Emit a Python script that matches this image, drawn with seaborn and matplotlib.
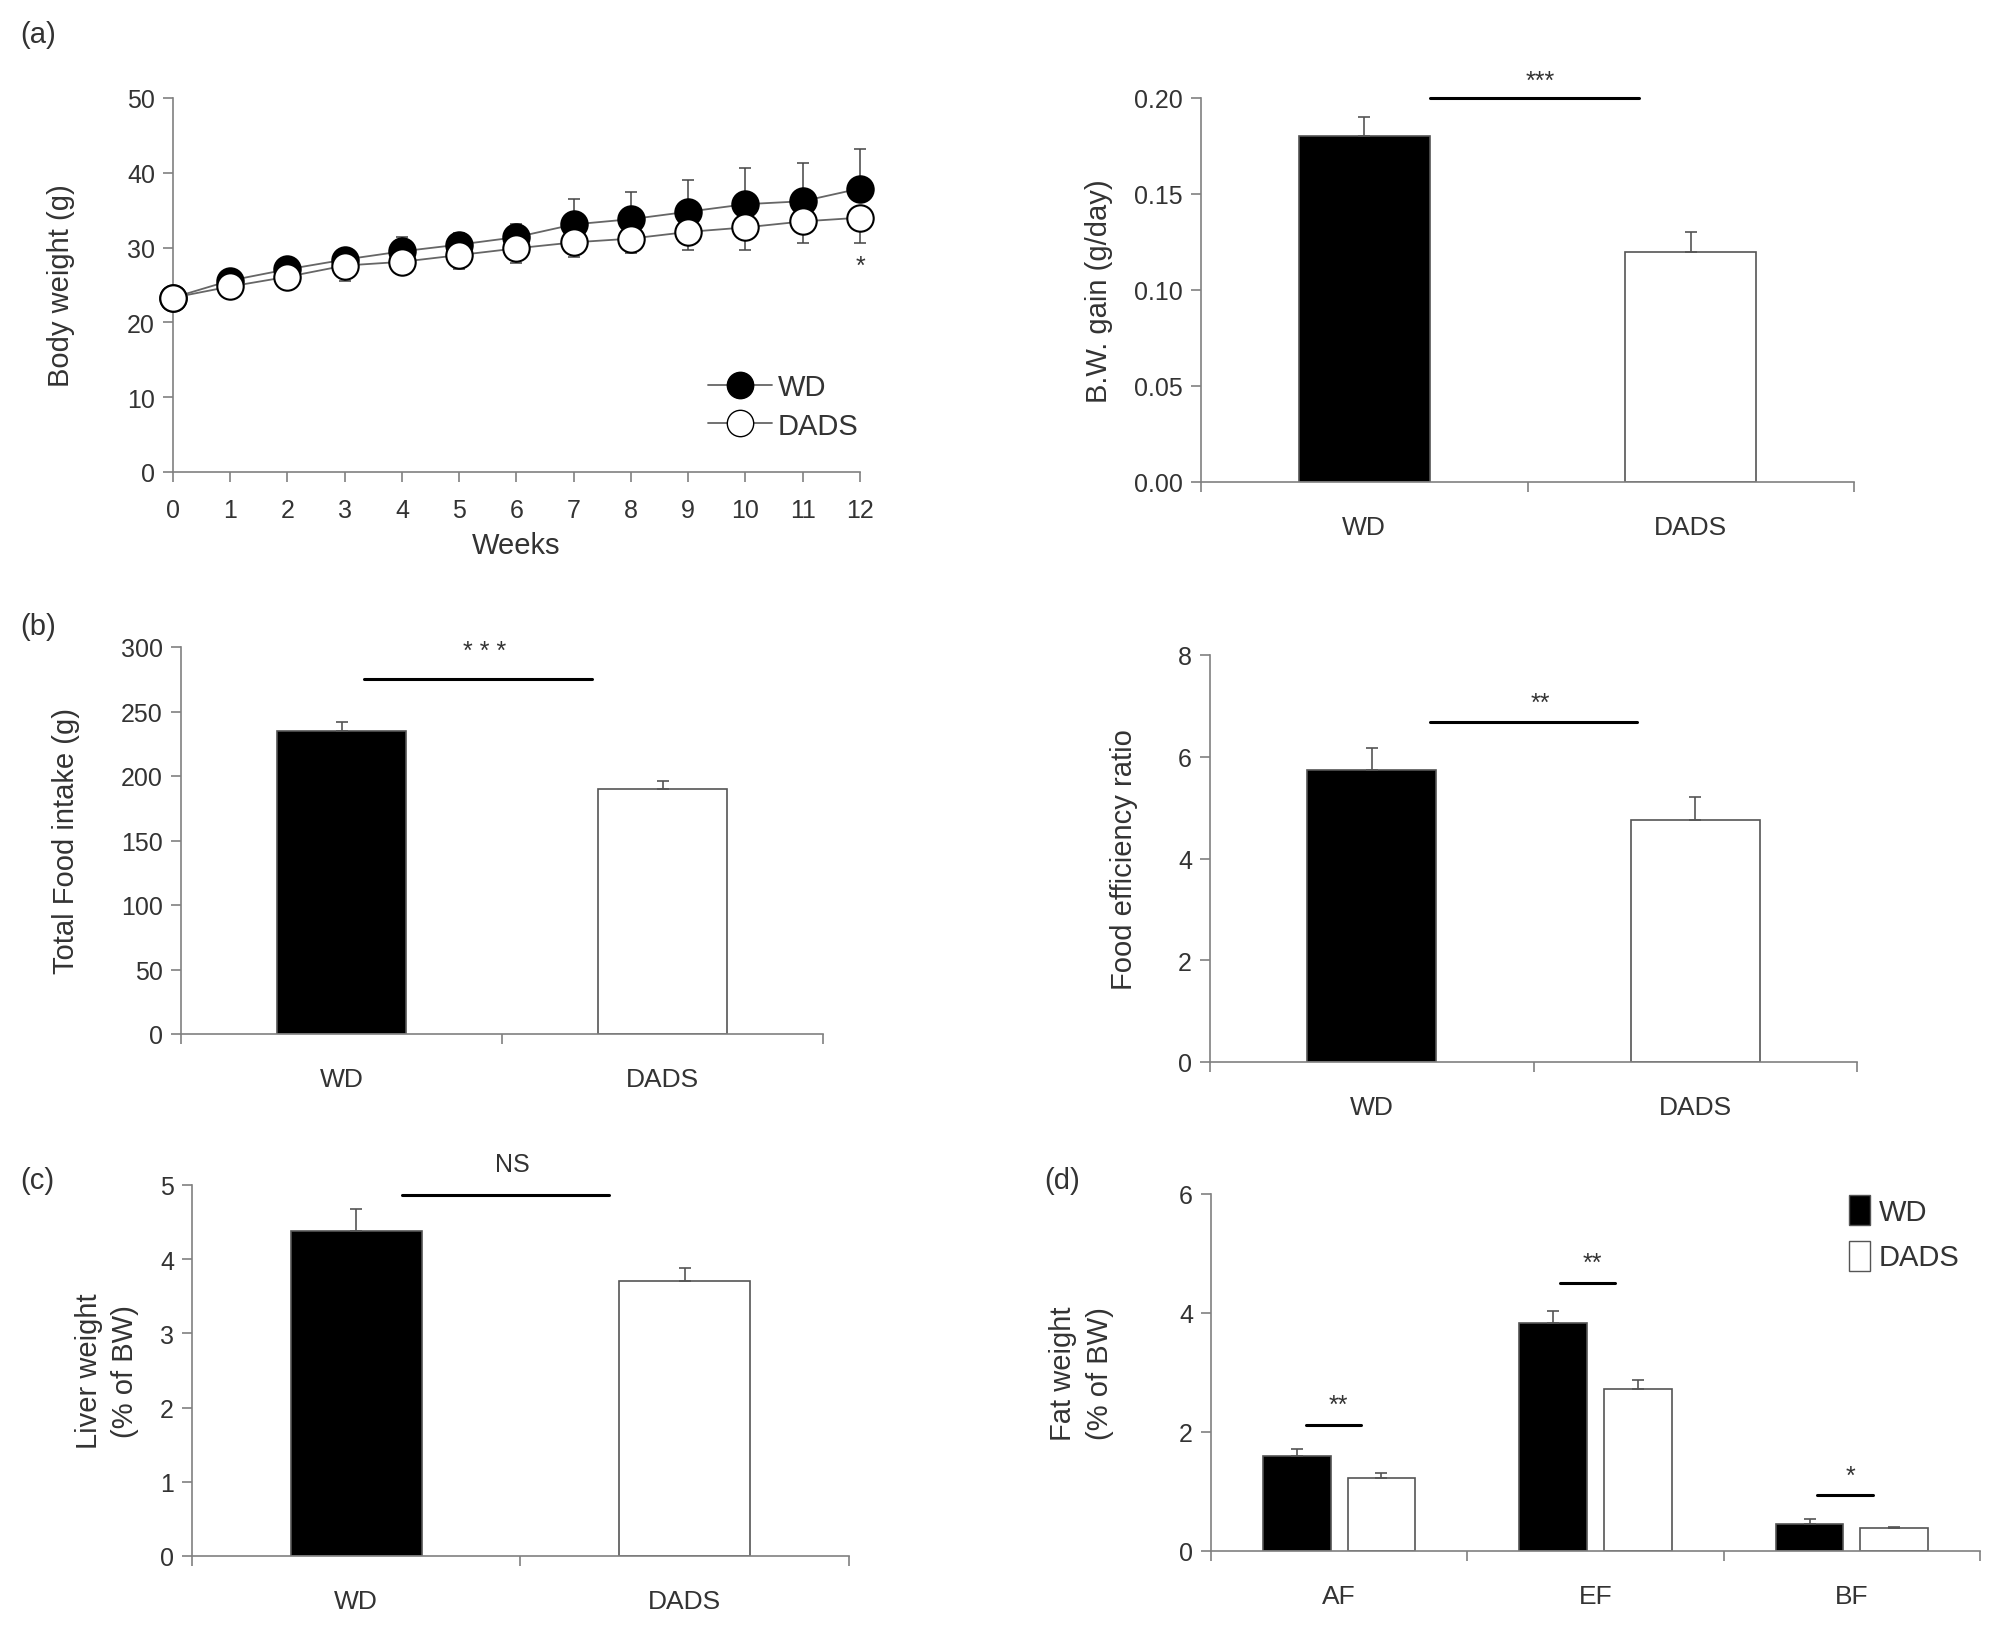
import matplotlib
matplotlib.use("Agg")
import matplotlib.pyplot as plt
import seaborn as sns
import numpy as np
import pandas as pd
from matplotlib.lines import Line2D
from matplotlib.patches import Patch

# body weight over 12 weeks (mean, SD)
weeks = list(range(13))
wd_bw = [23.3, 25.6, 27.1, 28.4, 29.5, 30.4, 31.4, 33.1, 33.8, 34.8, 35.8, 36.2, 37.9]
wd_bw_err = [0.0, 0.5, 0.9, 1.1, 1.9, 1.6, 1.7, 3.4, 3.6, 4.3, 4.8, 5.1, 5.3]
dads_bw = [23.3, 24.8, 26.1, 27.6, 28.1, 29.0, 29.9, 30.7, 31.2, 32.1, 32.7, 33.5, 34.0]
dads_bw_err = [0.0, 0.6, 0.9, 2.0, 1.6, 1.9, 1.9, 2.0, 1.9, 2.4, 3.0, 2.9, 3.4]

groups = ["WD", "DADS"]
bw_gain = [0.18, 0.12]
bw_gain_err = [0.010, 0.010]
food_intake = [235, 190]
food_intake_err = [7, 6]
food_eff = [5.73, 4.76]
food_eff_err = [0.44, 0.44]
liver = [4.38, 3.70]
liver_err = [0.30, 0.18]

fat_sites = ["AF", "EF", "BF"]
fat_wd = [1.60, 3.83, 0.46]
fat_wd_err = [0.11, 0.21, 0.07]
fat_dads = [1.22, 2.72, 0.39]
fat_dads_err = [0.09, 0.15, 0.02]

sns.set_style("white")
plt.rcParams['font.family'] = ['Liberation Sans', 'DejaVu Sans']
TXT = '#333333'
AXC = '#808080'
EDGE = '#555555'
FS = 18     # tick labels
LFS = 21    # axis labels
SFS = 18    # significance marks
plt.rcParams['text.color'] = TXT


def base_style(ax):
    sns.despine(ax=ax)
    for s in ['left', 'bottom']:
        ax.spines[s].set_color(AXC)
        ax.spines[s].set_linewidth(1.2)
    ax.tick_params(axis='both', which='major', direction='out', length=7, width=1.2,
                   color=AXC, labelsize=FS, labelcolor=TXT, left=True, bottom=True)
    ax.tick_params(axis='y', pad=6)


def cat_xaxis(ax, labels):
    n = len(labels)
    ax.set_xlim(-0.5, n - 0.5)
    ax.set_xticks(np.arange(n + 1) - 0.5)
    ax.set_xticklabels([])
    ax.set_xticks(np.arange(n), minor=True)
    ax.set_xticklabels(labels, minor=True, fontsize=FS + 1, color=TXT)
    ax.tick_params(axis='x', which='minor', length=0, pad=24)
    ax.set_xlabel("")


def sig(ax, x0, x1, y, ty, label):
    ax.plot([x0, x1], [y, y], color='black', lw=2.2, clip_on=False)
    ax.text((x0 + x1) / 2 + 0.02, ty, label, ha='center', va='center', fontsize=SFS, color=TXT)


def bar_panel(ax, vals, errs, top, step, ylabel, fmt="{:g}"):
    df = pd.DataFrame({"group": groups, "value": vals})
    sns.barplot(data=df, x="group", y="value", hue="group", palette=["black", "white"],
                width=0.4, edgecolor=EDGE, linewidth=1.2, errorbar=None, legend=False, ax=ax)
    ax.errorbar([0, 1], vals, yerr=[[0, 0], errs], fmt='none', ecolor=EDGE,
                elinewidth=1.2, capsize=4, capthick=1.2)
    base_style(ax)
    ticks = np.arange(0, top + step / 2, step)
    ax.set_ylim(0, top)
    ax.set_yticks(ticks)
    ax.set_yticklabels([fmt.format(t) for t in ticks])
    cat_xaxis(ax, groups)
    ax.set_ylabel(ylabel, fontsize=LFS, color=TXT, linespacing=1.4)


fig = plt.figure(figsize=(20.08, 16.31), dpi=100)
W, H = 2008, 1631


def add_ax(x0, x1, ytop, ybot):
    return fig.add_axes([x0 / W, 1 - ybot / H, (x1 - x0) / W, (ybot - ytop) / H])


# (a) body weight
ax = add_ax(173, 860, 99, 473)
base_style(ax)
z = [0] * len(weeks)
ax.errorbar(weeks, wd_bw, yerr=[z, wd_bw_err], fmt='none', ecolor='#444444',
            elinewidth=1.1, capsize=4, capthick=1.1, zorder=2, clip_on=False)
ax.errorbar(weeks, dads_bw, yerr=[dads_bw_err, z], fmt='none', ecolor='#444444',
            elinewidth=1.1, capsize=4, capthick=1.1, zorder=2, clip_on=False)
sns.lineplot(x=weeks, y=wd_bw, ax=ax, color='#666666', lw=1.3, marker='o', markersize=19,
             markerfacecolor='black', markeredgecolor='black', mew=1.5, zorder=3, clip_on=False)
sns.lineplot(x=weeks, y=dads_bw, ax=ax, color='#666666', lw=1.3, marker='o', markersize=19,
             markerfacecolor='white', markeredgecolor='black', mew=1.5, zorder=4, clip_on=False)
ax.set_xlim(0, 12)
ax.set_ylim(0, 50)
ax.set_xticks(weeks)
ax.set_yticks(range(0, 51, 10))
ax.tick_params(axis='x', pad=12)
ax.set_xlabel("Weeks", fontsize=LFS, color=TXT, labelpad=6)
ax.set_ylabel("Body weight (g)", fontsize=LFS, color=TXT)
ax.yaxis.set_label_coords(-0.143, 0.5)
ax.text(12, 27.5, "*", ha='center', va='center', fontsize=SFS, color=TXT)
handles = [Line2D([], [], color='#666666', lw=1.3, marker='o', markersize=19,
                  markerfacecolor='black', markeredgecolor='black'),
           Line2D([], [], color='#666666', lw=1.3, marker='o', markersize=19,
                  markerfacecolor='white', markeredgecolor='black')]
ax.legend(handles, groups, loc='center left', bbox_to_anchor=(0.74, 0.175), frameon=False,
          fontsize=LFS, handlelength=2.2, handletextpad=0.2, labelspacing=0.35)
fig.text(20 / W, 1 - 35 / H, "(a)", fontsize=LFS, va='center', color=TXT)

# B.W. gain
ax = add_ax(1201, 1854, 99, 483)
bar_panel(ax, bw_gain, bw_gain_err, 0.20, 0.05, "B.W. gain (g/day)", "{:.2f}")
ax.yaxis.set_label_coords(-0.135, 0.5)
sig(ax, 0.2, 0.84, 0.20, 0.209, "***")

# (b) total food intake
ax = add_ax(181, 823, 648, 1035)
bar_panel(ax, food_intake, food_intake_err, 300, 50, "Total Food intake (g)")
ax.yaxis.set_label_coords(-0.158, 0.5)
sig(ax, 0.07, 0.78, 275, 297, "* * *")
fig.text(20 / W, 1 - 627 / H, "(b)", fontsize=LFS, va='center', color=TXT)

# food efficiency ratio
ax = add_ax(1210, 1857, 656, 1063)
bar_panel(ax, food_eff, food_eff_err, 8, 2, "Food efficiency ratio")
ax.yaxis.set_label_coords(-0.111, 0.5)
sig(ax, 0.18, 0.82, 6.69, 7.05, "**")

# (c) liver weight
ax = add_ax(192, 849, 1186, 1557)
bar_panel(ax, liver, liver_err, 5, 1, "Liver weight\n(% of BW)")
ax.yaxis.set_label_coords(-0.08, 0.5)
sig(ax, 0.14, 0.77, 4.86, 5.28, "NS")
fig.text(20 / W, 1 - 1181 / H, "(c)", fontsize=LFS, va='center', color=TXT)

# (d) fat weight
ax = add_ax(1211, 1980, 1195, 1552)
fat_df = pd.DataFrame({
    "site": fat_sites * 2,
    "group": ["WD"] * 3 + ["DADS"] * 3,
    "value": fat_wd + fat_dads,
})
sns.barplot(data=fat_df, x="site", y="value", hue="group", palette=["black", "white"],
            width=0.66, gap=0.2, edgecolor=EDGE, linewidth=1.2, errorbar=None, ax=ax)
xs = np.arange(3)
ax.errorbar(xs - 0.165, fat_wd, yerr=[[0] * 3, fat_wd_err], fmt='none', ecolor=EDGE,
            elinewidth=1.2, capsize=4, capthick=1.2)
ax.errorbar(xs + 0.165, fat_dads, yerr=[[0] * 3, fat_dads_err], fmt='none', ecolor=EDGE,
            elinewidth=1.2, capsize=4, capthick=1.2)
base_style(ax)
ax.set_ylim(0, 6)
ax.set_yticks([0, 2, 4, 6])
cat_xaxis(ax, fat_sites)
ax.set_ylabel("Fat weight\n(% of BW)", fontsize=LFS, color=TXT, linespacing=1.4)
ax.yaxis.set_label_coords(-0.126, 0.5)
sig(ax, -0.13, 0.085, 2.125, 2.45, "**")
sig(ax, 0.86, 1.075, 4.50, 4.85, "**")
sig(ax, 1.866, 2.083, 0.94, 1.26, "*")
handles = [Patch(facecolor='black', edgecolor=EDGE), Patch(facecolor='white', edgecolor=EDGE)]
ax.legend(handles, groups, loc='upper left', bbox_to_anchor=(0.796, 1.07), frameon=False,
          fontsize=LFS, handlelength=0.7, handleheight=1.2, handletextpad=0.3, labelspacing=0.5)
fig.text(1044 / W, 1 - 1181 / H, "(d)", fontsize=LFS, va='center', color=TXT)

fig.savefig("out.png", dpi=100)
